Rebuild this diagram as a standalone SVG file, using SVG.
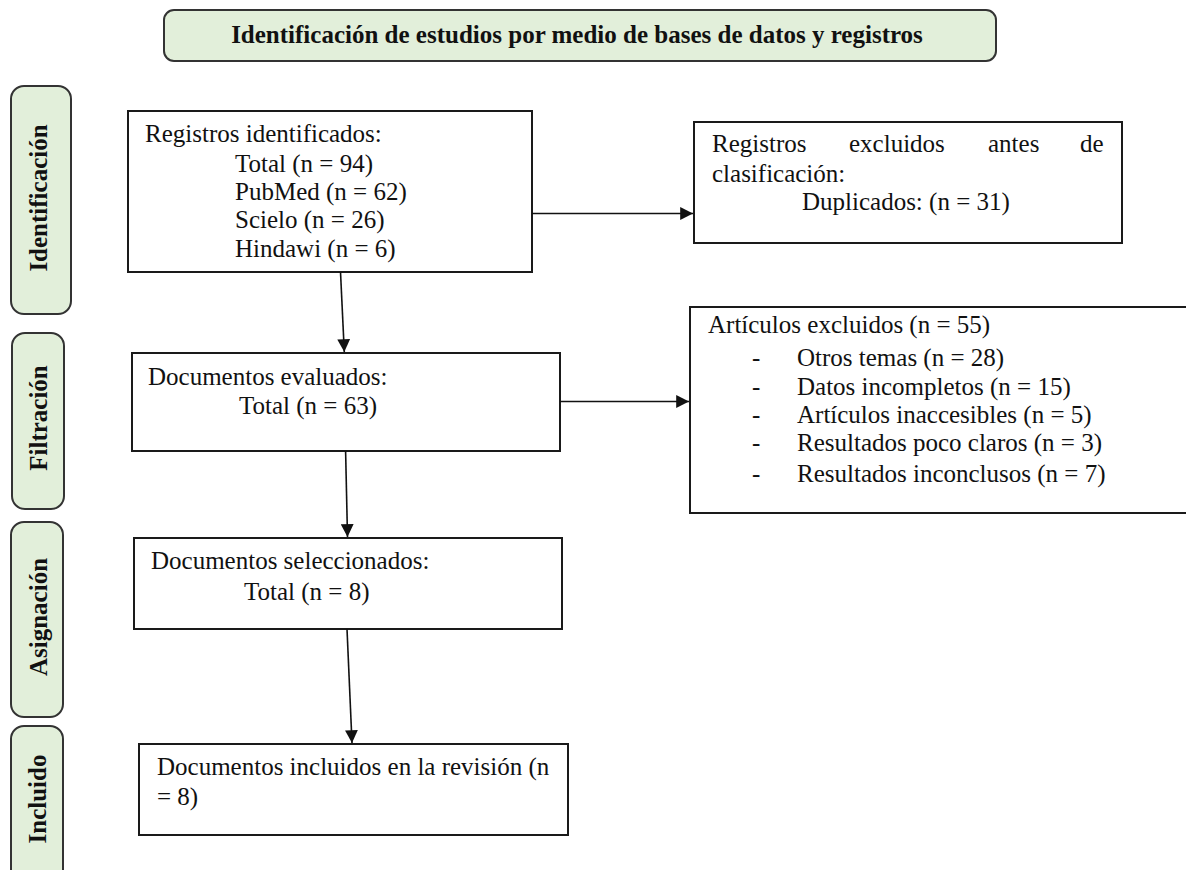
<svg xmlns="http://www.w3.org/2000/svg" width="1186" height="870" viewBox="0 0 1186 870">
<defs>
<style>
.lbl{fill:#e2efda;stroke:#333;stroke-width:2}
.box{fill:#fff;stroke:#1a1a1a;stroke-width:2}
.t{font-family:"Liberation Serif","Times New Roman",serif;font-size:25px;fill:#111}
.b{font-family:"Liberation Serif","Times New Roman",serif;font-size:25px;font-weight:bold;fill:#111}
.con{stroke:#111;stroke-width:1.6;fill:none}
</style>
<marker id="ah" viewBox="0 0 10 10" refX="10" refY="5" markerWidth="9" markerHeight="8" markerUnits="strokeWidth" orient="auto">
<path d="M0,0 L10,5 L0,10 Z" fill="#111"/>
</marker>
</defs>
<rect width="1186" height="870" fill="#fff"/>

<g id="header">
<rect class="lbl" x="164" y="10" width="832" height="51" rx="10"/>
<text class="b" x="577" y="43" text-anchor="middle">Identificación de estudios por medio de bases de datos y registros</text>
</g>

<g id="lbl-identificacion">
<rect class="lbl" x="11" y="86" width="60" height="228" rx="13"/>
<text class="b" transform="translate(47,198) rotate(-90)" text-anchor="middle">Identificación</text>
</g>
<g id="lbl-filtracion">
<rect class="lbl" x="12" y="333" width="52" height="176" rx="13"/>
<text class="b" transform="translate(47,418) rotate(-90)" text-anchor="middle">Filtración</text>
</g>
<g id="lbl-asignacion">
<rect class="lbl" x="11" y="522" width="52" height="195" rx="13"/>
<text class="b" transform="translate(47,617) rotate(-90)" text-anchor="middle">Asignación</text>
</g>
<g id="lbl-incluido">
<rect class="lbl" x="11" y="726" width="52" height="170" rx="13"/>
<text class="b" transform="translate(46,799) rotate(-90)" text-anchor="middle">Incluido</text>
</g>

<g id="n-registros">
<rect class="box" x="128" y="111" width="404" height="161"/>
<text class="t"><tspan x="145" y="142">Registros identificados:</tspan><tspan x="235" y="172">Total (n = 94)</tspan><tspan x="235" y="200">PubMed (n = 62)</tspan><tspan x="235" y="228">Scielo (n = 26)</tspan><tspan x="235" y="257">Hindawi (n = 6)</tspan></text>
</g>

<g id="n-excluidos-antes">
<rect class="box" x="694" y="122" width="428" height="121"/>
<text class="t"><tspan x="712" y="152">Registros</tspan><tspan x="849" y="152">excluidos</tspan><tspan x="988" y="152">antes</tspan><tspan x="1080" y="152">de</tspan><tspan x="712" y="182">clasificación:</tspan><tspan x="802" y="210">Duplicados: (n = 31)</tspan></text>
</g>

<g id="n-evaluados">
<rect class="box" x="132" y="353" width="428" height="98"/>
<text class="t"><tspan x="148" y="385">Documentos evaluados:</tspan><tspan x="239" y="414">Total (n = 63)</tspan></text>
</g>

<g id="n-articulos-excluidos">
<rect class="box" x="690" y="307" width="520" height="206"/>
<text class="t"><tspan x="708" y="333">Artículos excluidos (n = 55)</tspan><tspan x="752" y="366">-</tspan><tspan x="797" y="366">Otros temas (n = 28)</tspan><tspan x="752" y="395">-</tspan><tspan x="797" y="395">Datos incompletos (n = 15)</tspan><tspan x="752" y="423">-</tspan><tspan x="797" y="423">Artículos inaccesibles (n = 5)</tspan><tspan x="752" y="451">-</tspan><tspan x="797" y="451">Resultados poco claros (n = 3)</tspan><tspan x="752" y="482">-</tspan><tspan x="797" y="482">Resultados inconclusos (n = 7)</tspan></text>
</g>

<g id="n-seleccionados">
<rect class="box" x="134" y="538" width="428" height="91"/>
<text class="t"><tspan x="151" y="569">Documentos seleccionados:</tspan><tspan x="244" y="600">Total (n = 8)</tspan></text>
</g>

<g id="n-incluidos">
<rect class="box" x="139" y="744" width="429" height="91"/>
<text class="t"><tspan x="157" y="775">Documentos incluidos en la revisión (n</tspan><tspan x="157" y="805">= 8)</tspan></text>
</g>

<g id="connectors">
<line class="con" x1="532" y1="213.5" x2="693" y2="213.5" marker-end="url(#ah)"/>
<line class="con" x1="560" y1="401.5" x2="689" y2="401.5" marker-end="url(#ah)"/>
<line class="con" x1="340.5" y1="272" x2="344.3" y2="352" marker-end="url(#ah)"/>
<line class="con" x1="345.6" y1="451" x2="347.5" y2="537" marker-end="url(#ah)"/>
<line class="con" x1="347" y1="629" x2="352" y2="743" marker-end="url(#ah)"/>
</g>
</svg>
